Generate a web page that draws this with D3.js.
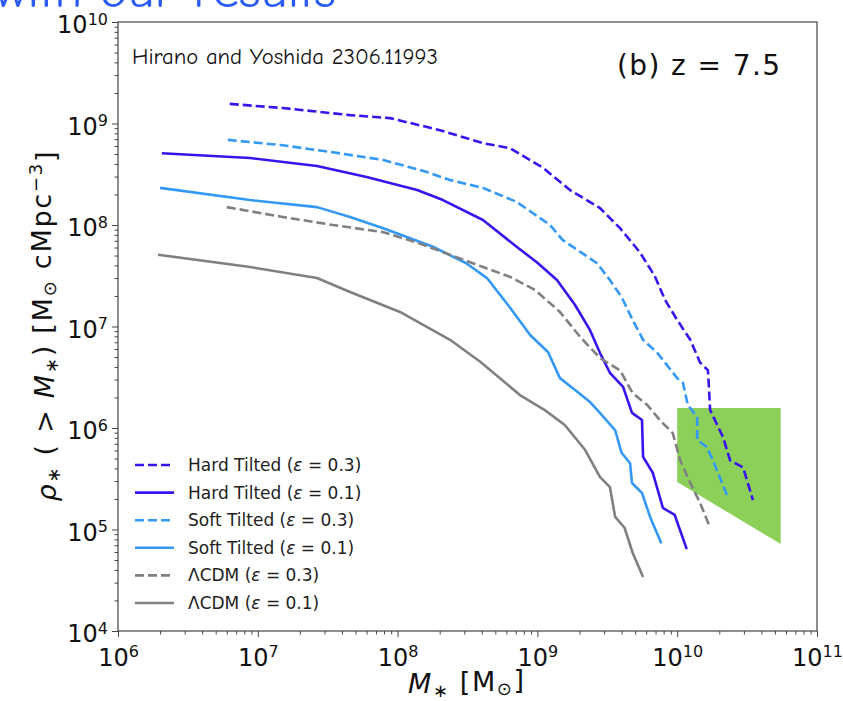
<!DOCTYPE html>
<html>
<head>
<meta charset="utf-8">
<script src="https://cdn.jsdelivr.net/npm/d3@7"></script>
<style>
  body { margin: 0; background: #fff; }
  svg { display: block; }
  .tick-label { font-family: "DejaVu Sans", sans-serif; fill: #111; }
</style>
</head>
<body>
<div id="chart"></div>
<script>
// cumulative stellar mass density, z = 7.5: [M*, rho*(>M*)]
var hardTilted03 = [
  [6.3e6, 1.56e9], [1.51e7, 1.42e9], [4.57e7, 1.21e9], [8.8e7, 1.13e9], [2.01e8, 8.6e8],
  [4.08e8, 6.4e8], [6.4e8, 5.7e8], [1.10e9, 3.65e8], [1.71e9, 2.21e8], [2.8e9, 1.47e8],
  [3.9e9, 9.3e7], [5.4e9, 5.4e7], [6.9e9, 3.15e7], [8.2e9, 1.82e7], [1.0e10, 1.16e7],
  [1.24e10, 7.4e6], [1.46e10, 4.4e6], [1.66e10, 3.7e6], [1.72e10, 1.5e6], [2.13e10, 8.1e5],
  [2.39e10, 4.8e5], [2.96e10, 4.1e5], [3.48e10, 1.95e5]
];
var hardTilted01 = [
  [2.06e6, 5.1e8], [8.8e6, 4.57e8], [2.65e7, 3.81e8], [6.0e7, 2.97e8], [1.38e8, 2.21e8],
  [2.11e8, 1.76e8], [4.08e8, 1.12e8], [7.1e8, 6.1e7], [9.9e8, 4.3e7], [1.38e9, 2.87e7],
  [1.86e9, 1.63e7], [2.38e9, 9.2e6], [2.8e9, 5.5e6], [3.3e9, 3.5e6], [4.1e9, 2.54e6],
  [4.75e9, 1.41e6], [5.6e9, 1.2e6], [5.7e9, 5.2e5], [6.7e9, 3.6e5], [7.9e9, 1.63e5],
  [9.6e9, 1.39e5], [1.17e10, 6.4e4]
];
var softTilted03 = [
  [6.1e6, 6.9e8], [1.51e7, 6.1e8], [3.45e7, 5.2e8], [7.9e7, 4.37e8], [1.62e8, 3.33e8],
  [2.37e8, 2.77e8], [4.08e8, 2.32e8], [7.1e8, 1.69e8], [1.23e9, 1.0e8], [1.52e9, 7.1e7],
  [2.67e9, 4.2e7], [3.3e9, 2.87e7], [4.0e9, 1.95e7], [4.8e9, 1.16e7], [5.7e9, 7.4e6],
  [7.2e9, 5.5e6], [1.0e10, 3.1e6], [1.10e10, 2.77e6], [1.19e10, 1.69e6], [1.39e10, 1.28e6],
  [1.39e10, 7.6e5], [1.63e10, 6.5e5], [1.80e10, 4.8e5], [2.27e10, 2.19e5]
];
var softTilted01 = [
  [2.0e6, 2.32e8], [8.8e6, 1.76e8], [2.65e7, 1.5e8], [4.57e7, 1.2e8], [7.9e7, 9.3e7],
  [1.79e8, 6.1e7], [3.1e8, 4.2e7], [4.36e8, 3.0e7], [6.4e8, 1.52e7], [8.9e8, 8.2e6],
  [1.19e9, 5.6e6], [1.45e9, 3.1e6], [1.86e9, 2.37e6], [2.38e9, 1.8e6], [2.8e9, 1.41e6],
  [3.6e9, 9.5e5], [4.0e9, 5.7e5], [4.6e9, 4.5e5], [4.75e9, 2.87e5], [5.6e9, 2.29e5],
  [6.4e9, 1.33e5], [7.7e9, 7.3e4]
];
var lcdm03 = [
  [6.0e6, 1.5e8], [1.51e7, 1.2e8], [3.45e7, 1.0e8], [7.9e7, 8.5e7], [1.38e8, 6.7e7],
  [2.37e8, 5.1e7], [4.08e8, 3.85e7], [6.4e8, 3.08e7], [9.6e8, 2.29e7], [1.45e9, 1.39e7],
  [2.02e9, 7.9e6], [2.8e9, 4.9e6], [3.9e9, 3.7e6], [4.8e9, 2.21e6], [6.1e9, 1.69e6],
  [7.5e9, 1.2e6], [9.3e9, 8.9e5], [1.05e10, 4.8e5], [1.24e10, 2.87e5], [1.46e10, 1.82e5],
  [1.72e10, 1.04e5]
];
var lcdm01 = [
  [1.93e6, 5.1e7], [8.8e6, 3.85e7], [2.65e7, 3.0e7], [4.57e7, 2.19e7], [1.04e8, 1.39e7],
  [2.37e8, 7.4e6], [3.9e8, 4.5e6], [5.4e8, 3.1e6], [7.5e8, 2.11e6], [1.13e9, 1.5e6],
  [1.57e9, 1.07e6], [2.19e9, 6.1e5], [2.8e9, 3.3e5], [3.3e9, 2.62e5], [3.6e9, 1.33e5],
  [4.2e9, 1.04e5], [4.8e9, 5.9e4], [5.7e9, 3.4e4]
];
// observational constraint region (green)
var obsRegion = [[1.0e10, 1.57e6], [5.5e10, 1.57e6], [5.5e10, 7.2e4], [1.0e10, 2.94e5]];

var seriesNames = [
  "Hard Tilted", "Hard Tilted", "Soft Tilted", "Soft Tilted", "\u039BCDM", "\u039BCDM"
];
var seriesEps = ["0.3", "0.1", "0.3", "0.1", "0.3", "0.1"];
var xDecades = [1e6, 1e7, 1e8, 1e9, 1e10, 1e11];
var yDecades = [1e4, 1e5, 1e6, 1e7, 1e8, 1e9, 1e10];

(function () {
  var series = [
    { data: hardTilted03, color: "#3a14ee", dashed: true },
    { data: hardTilted01, color: "#3a14ee", dashed: false },
    { data: softTilted03, color: "#3399f5", dashed: true },
    { data: softTilted01, color: "#3399f5", dashed: false },
    { data: lcdm03, color: "#808080", dashed: true },
    { data: lcdm01, color: "#808080", dashed: false }
  ];

  var W = 843, H = 701;
  var m = { left: 118, right: 817, top: 22, bottom: 631 };

  var svg = d3.select("#chart").append("svg").attr("width", W).attr("height", H);

  // slide title cut off at the top edge
  svg.append("text").attr("x", -4).attr("y", 7)
    .attr("textLength", 340).attr("lengthAdjust", "spacingAndGlyphs")
    .style("font-family", "'Comic Sans MS', 'Comic Neue', Lato, sans-serif")
    .style("font-size", "46px").style("fill", "#2b5bf5")
    .text("with our results");

  var x = d3.scaleLog().domain([1e6, 1e11]).range([m.left, m.right]);
  var y = d3.scaleLog().domain([1e4, 1e10]).range([m.bottom, m.top]);

  function minors(decades) {
    var out = [];
    decades.slice(0, -1).forEach(function (d) {
      for (var k = 2; k < 10; k++) out.push(d * k);
    });
    return out;
  }

  var line = d3.line().x(function (d) { return x(d[0]); }).y(function (d) { return y(d[1]); });

  // green region
  svg.append("path")
    .datum(obsRegion)
    .attr("d", line.curve(d3.curveLinearClosed))
    .attr("fill", "#8cd05a");
  line.curve(d3.curveLinear);

  series.forEach(function (s) {
    svg.append("path").datum(s.data)
      .attr("d", line)
      .attr("fill", "none")
      .attr("stroke", s.color)
      .attr("stroke-width", 2.6)
      .attr("stroke-linejoin", "round")
      .attr("stroke-dasharray", s.dashed ? "9,4" : null);
  });

  // axes
  function supLabels(sel) {
    sel.selectAll(".tick text").each(function (d) {
      var t = d3.select(this);
      var e = Math.round(Math.log10(d));
      t.text(null).attr("class", "tick-label").style("font-size", "24px");
      t.append("tspan").text("10");
      t.append("tspan").attr("dy", "-0.55em").style("font-size", "16px").text(e);
    });
  }

  var xAxis = svg.append("g").attr("transform", "translate(0," + m.bottom + ")")
    .call(d3.axisBottom(x).tickValues(xDecades).tickSize(6).tickPadding(5).tickFormat(function (d) { return d; }));
  xAxis.call(supLabels);
  xAxis.selectAll(".tick text").attr("dy", "1.0em");
  svg.append("g").attr("transform", "translate(0," + m.bottom + ")")
    .call(d3.axisBottom(x).tickValues(minors(xDecades)).tickSize(3.5).tickFormat(""));

  var yAxis = svg.append("g").attr("transform", "translate(" + m.left + ",0)")
    .call(d3.axisLeft(y).tickValues(yDecades).tickSize(6).tickPadding(4).tickFormat(function (d) { return d; }));
  yAxis.call(supLabels);
  yAxis.selectAll(".tick text").attr("dy", "0.45em");
  svg.append("g").attr("transform", "translate(" + m.left + ",0)")
    .call(d3.axisLeft(y).tickValues(minors(yDecades)).tickSize(3.5).tickFormat(""));

  svg.selectAll(".domain").remove();
  svg.selectAll(".tick line").attr("stroke", "#444");

  svg.append("rect")
    .attr("x", m.left).attr("y", m.top)
    .attr("width", m.right - m.left).attr("height", m.bottom - m.top)
    .attr("fill", "none").attr("stroke", "#444").attr("stroke-width", 1.2);

  // axis titles
  var xt = svg.append("text").attr("x", 466).attr("y", 693)
    .attr("text-anchor", "middle")
    .attr("textLength", 116).attr("lengthAdjust", "spacing")
    .style("font-family", "'DejaVu Sans', sans-serif").style("font-size", "27px").style("fill", "#111");
  xt.append("tspan").style("font-style", "italic").text("M");
  xt.append("tspan").attr("dy", "0.2em").style("font-size", "18px").text("\u2217");
  xt.append("tspan").attr("dy", "-0.2em").text(" [M");
  xt.append("tspan").attr("dy", "0.2em").style("font-size", "18px").text("\u2299");
  xt.append("tspan").attr("dy", "-0.2em").text("]");

  var yt = svg.append("text")
    .attr("transform", "translate(56," + ((m.top + m.bottom) / 2) + ") rotate(-90)")
    .attr("text-anchor", "middle")
    .attr("textLength", 350).attr("lengthAdjust", "spacing")
    .style("font-family", "'DejaVu Sans', sans-serif").style("font-size", "27px").style("fill", "#111");
  yt.append("tspan").style("font-style", "italic").text("\u03C1");
  yt.append("tspan").attr("dy", "0.2em").style("font-size", "18px").text("\u2217");
  yt.append("tspan").attr("dy", "-0.2em").text(" ( > ");
  yt.append("tspan").style("font-style", "italic").text("M");
  yt.append("tspan").attr("dy", "0.2em").style("font-size", "18px").text("\u2217");
  yt.append("tspan").attr("dy", "-0.2em").text(") [M");
  yt.append("tspan").attr("dy", "0.2em").style("font-size", "18px").text("\u2299");
  yt.append("tspan").attr("dy", "-0.2em").text(" cMpc");
  yt.append("tspan").attr("dy", "-0.5em").style("font-size", "18px").text("\u22123");
  yt.append("tspan").attr("dy", "0.5em").text("]");

  // annotations
  svg.append("text").attr("x", 132).attr("y", 64)
    .attr("textLength", 306).attr("lengthAdjust", "spacingAndGlyphs")
    .style("font-family", "'Comic Sans MS', 'Comic Neue', Lato, sans-serif")
    .style("font-size", "22px").style("fill", "#111")
    .text("Hirano and Yoshida 2306.11993");

  svg.append("text").attr("x", 617).attr("y", 75)
    .attr("textLength", 163).attr("lengthAdjust", "spacing")
    .style("font-family", "'DejaVu Sans', sans-serif").style("font-size", "28px").style("fill", "#111")
    .text("(b) z = 7.5");

  // legend
  var legend = svg.append("g");
  series.forEach(function (s, i) {
    var cy = 465 + i * 27.6;
    legend.append("line")
      .attr("x1", 135).attr("x2", 174).attr("y1", cy).attr("y2", cy)
      .attr("stroke", s.color).attr("stroke-width", 2.6)
      .attr("stroke-dasharray", s.dashed ? "9,4" : null);
    var t = legend.append("text").attr("x", 188).attr("y", cy + 6)
      .style("font-family", "'DejaVu Sans', sans-serif").style("font-size", "17px").style("fill", "#222");
    t.append("tspan").text(seriesNames[i] + " (");
    t.append("tspan").style("font-style", "italic").text("\u03B5");
    t.append("tspan").text(" = " + seriesEps[i] + ")");
  });
})();
</script>
</body>
</html>
